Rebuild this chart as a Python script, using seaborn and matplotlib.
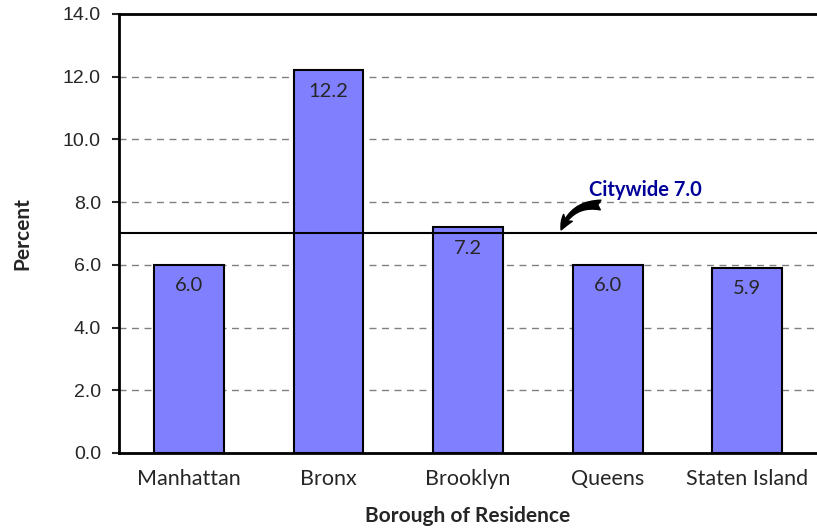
import matplotlib
matplotlib.use("Agg")
import matplotlib.pyplot as plt
import pandas as pd
import seaborn as sns

# data
boroughs = ["Manhattan", "Bronx", "Brooklyn", "Queens", "Staten Island"]
percent = [6.0, 12.2, 7.2, 6.0, 5.9]
citywide = 7.0
y_ticks = [0.0, 2.0, 4.0, 6.0, 8.0, 10.0, 12.0, 14.0]

df = pd.DataFrame({"Borough": boroughs, "Percent": percent})

sns.set_style("white")
plt.rcParams["font.family"] = ["Lato", "DejaVu Sans"]

fig = plt.figure(figsize=(8.17, 5.30), dpi=100)
ax = fig.add_axes([0.1457, 0.1453, 0.8543, 0.8283])

sns.barplot(data=df, x="Borough", y="Percent", color="#8080FF", saturation=1,
            edgecolor="black", linewidth=1.5, width=0.5, ax=ax, zorder=2)

# dashed grid at the inner ticks
for t in y_ticks[1:-1]:
    ax.axhline(t, color="#808080", linestyle=(0, (5, 4)), linewidth=1, zorder=1)

# citywide reference line on top of bars
ax.axhline(citywide, color="black", linewidth=1.5, zorder=3)

# value labels just inside each bar top
for bar, v in zip(ax.patches, percent):
    ax.annotate(f"{v:.1f}", (bar.get_x() + bar.get_width() / 2, v),
                xytext=(0, -15), textcoords="offset points",
                ha="center", va="center", fontsize=14.5, zorder=4)

ax.annotate("", xy=(2.66, 7.03), xytext=(2.97, 7.9),
            arrowprops=dict(arrowstyle="fancy,head_length=1.0,head_width=0.8,tail_width=0.7",
                            connectionstyle="arc3,rad=0.4", color="black"),
            zorder=5)
ax.text(3.27, 8.39, f"Citywide {citywide:.1f}", color="#000099", fontsize=14.5,
        fontweight="bold", ha="center", va="center")

ax.set_xlim(-0.5, 4.5)
ax.set_ylim(0, 14)
ax.set_yticks(y_ticks)
ax.set_yticklabels([f"{t:.1f}" for t in y_ticks], fontsize=14,
                   family=["Liberation Sans", "DejaVu Sans"])
ax.tick_params(axis="y", left=True, length=5, width=1.5, direction="out", pad=8)
ax.tick_params(axis="x", bottom=False, labelsize=15.5, pad=8)

ax.set_xlabel("Borough of Residence", fontsize=15, fontweight="bold", labelpad=12)
ax.set_ylabel("Percent", fontsize=15, fontweight="bold", labelpad=22)

for side in ["left", "bottom", "top"]:
    ax.spines[side].set_linewidth(2)
    ax.spines[side].set_color("black")
ax.spines["right"].set_visible(False)

fig.savefig("out.png", dpi=100)
